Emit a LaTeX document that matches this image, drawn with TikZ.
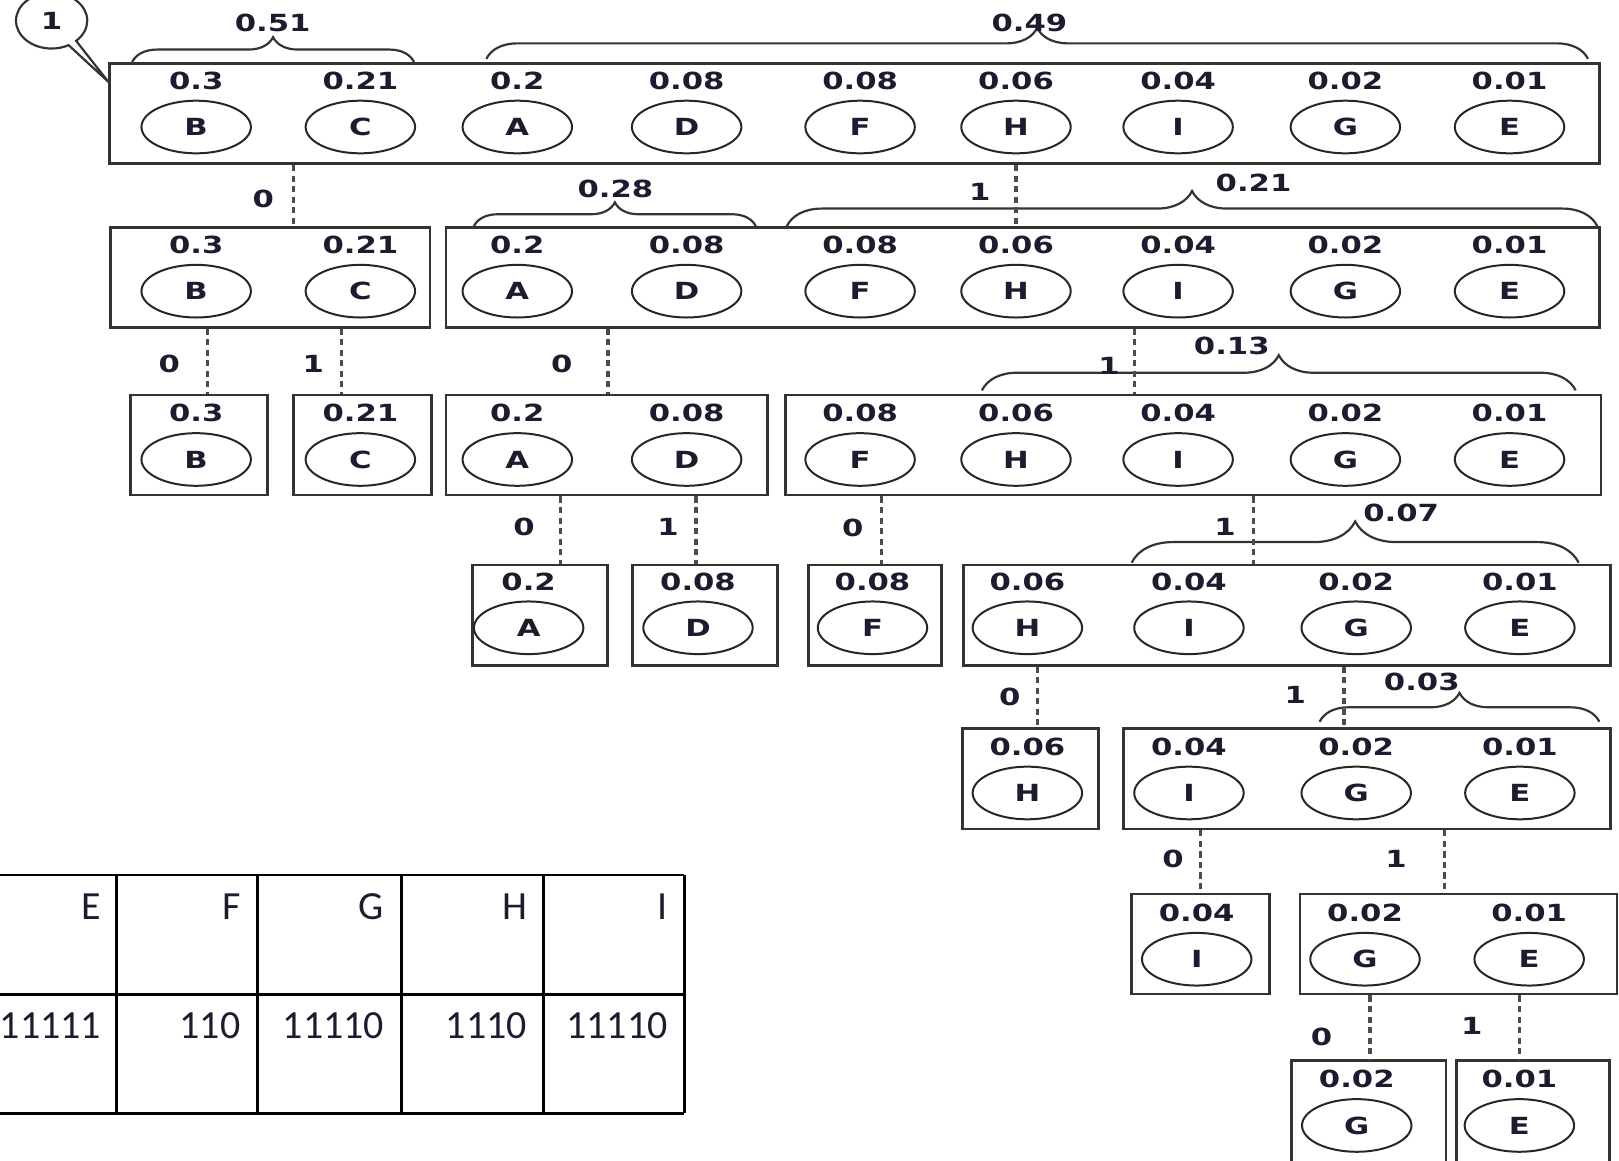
\documentclass[tikz,border=0pt]{standalone}
\usepackage{fontspec}
\usepackage{tikz}
\usetikzlibrary{shapes.geometric, shapes.callouts, decorations.pathreplacing}
\newfontfamily\treefont[FakeStretch=1.3]{DejaVu Sans}
\newfontfamily\cellfont{Carlito}
\definecolor{ink}{RGB}{28,28,48}

\begin{document}
\begin{tikzpicture}[x=0.1mm, y=-0.1mm, ink,
  box/.style={draw=black!80, line width=0.75pt, minimum height=9.7mm, inner sep=0pt},
  val/.style={inner sep=0pt, font=\treefont\bfseries\fontsize{6.5}{8}\selectfont},
  sym/.style={val, ellipse, draw=black!85, line width=0.55pt, minimum width=10.6mm, minimum height=5.1mm},
  link/.style={draw=black!70, line width=0.95pt, dash pattern=on 1.7pt off 1.2pt},
  brc/.style={decorate, decoration={brace, amplitude=#1}, draw=black!80, line width=0.6pt},
  tabline/.style={draw=black, line width=0.75pt},
  cell/.style={anchor=east, inner sep=0pt, font=\cellfont\fontsize{11}{14}\selectfont}]
  \useasboundingbox (0,0) rectangle (1568,1124);

  % boxes, row by row
  \node[box, minimum width=144.3mm] (r1) at (827.7,110) {};
  \node[box, minimum width=30.95mm] (r2a) at (261.75,268.5) {};
  \node[box, minimum width=111.7mm] (r2b) at (990.5,268.5) {};
  \node[box, minimum width=13.27mm] (r3a) at (192.65,431) {};
  \node[box, minimum width=13.37mm] (r3b) at (350.85,431) {};
  \node[box, minimum width=31.13mm] (r3c) at (587.65,431) {};
  \node[box, minimum width=78.96mm] (r3d) at (1155.8,431) {};
  \node[box, minimum width=13.06mm] (r4a) at (523.2,595.7) {};
  \node[box, minimum width=14.05mm] (r4b) at (682.95,595.7) {};
  \node[box, minimum width=12.89mm] (r4c) at (847.15,595.7) {};
  \node[box, minimum width=62.7mm] (r4d) at (1246.5,595.7) {};
  \node[box, minimum width=13.15mm] (r5a) at (998.25,754.3) {};
  \node[box, minimum width=47.2mm] (r5b) at (1324,754.3) {};
  \node[box, minimum width=13.38mm] (r6a) at (1162.9,914.3) {};
  \node[box, minimum width=30.7mm] (r6b) at (1412.5,914.3) {};
  \node[box, minimum width=14.95mm, minimum height=10mm] (r7a) at (1325.75,1077) {};
  \node[box, minimum width=14.82mm, minimum height=10mm] (r7b) at (1484.9,1077) {};

  % probabilities and symbols
  \foreach \r/\t in {1/61, 2/220, 3/383}
    \foreach \x/\s/\p in {190/B/0.3, 349/C/0.21, 501/A/0.2, 665/D/0.08, 833/F/0.08,
                          984/H/0.06, 1141/I/0.04, 1303/G/0.02, 1462/E/0.01} {
      \node[val] (p\r\s) at ({\x},{\t+17}) {\p};
      \node[sym] (n\r\s) at ({\x},{\t+62}) {\s};
    }
  \foreach \x/\s/\p in {512/A/0.2, 676/D/0.08, 845/F/0.08, 995/H/0.06,
                        1151.5/I/0.04, 1313.5/G/0.02, 1472/E/0.01} {
    \node[val] (p4\s) at (\x,564) {\p};
    \node[sym] (n4\s) at (\x,608) {\s};
  }
  \foreach \x/\s/\p in {995/H/0.06, 1151.5/I/0.04, 1313.5/G/0.02, 1472/E/0.01} {
    \node[val] (p5\s) at (\x,723) {\p};
    \node[sym] (n5\s) at (\x,768) {\s};
  }
  \foreach \x/\s/\p in {1159/I/0.04, 1322/G/0.02, 1481/E/0.01} {
    \node[val] (p6\s) at (\x,884) {\p};
    \node[sym] (n6\s) at (\x,929) {\s};
  }
  \foreach \x/\s/\p in {1314/G/0.02, 1471.5/E/0.01} {
    \node[val] (p7\s) at (\x,1045) {\p};
    \node[sym] (n7\s) at (\x,1090) {\s};
  }

  % group sums
  \draw[brc=2.4mm] (128,60) -- (401,60);
  \draw[brc=3mm] (471,57) -- (1538,57);
  \draw[brc=2.3mm] (459,219) -- (732,219);
  \draw[brc=3.4mm] (762,219) -- (1547,219);
  \draw[brc=3.4mm] (951,378) -- (1526,378);
  \draw[brc=4mm] (1096,545) -- (1529,545);
  \draw[brc=2.8mm] (1278,699) -- (1549,699);
  \node[val] (s1) at (264,22.6) {0.51};
  \node[val] (s2) at (997,22.6) {0.49};
  \node[val] (s3) at (596,183) {0.28};
  \node[val] (s4) at (1214,177.5) {0.21};
  \node[val] (s5) at (1193,335) {0.13};
  \node[val] (s6) at (1357,497) {0.07};
  \node[val] (s7) at (1377,660) {0.03};

  % splits
  \draw[link] (r1.south -| 284,0) -- (r2a.north -| 284,0);
  \draw[link] (r1.south -| 984,0) -- (r2b.north -| 984,0);
  \draw[link] (r2a.south -| 201,0) -- (r3a.north -| 201,0);
  \draw[link] (r2a.south -| 331,0) -- (r3b.north -| 331,0);
  \draw[link] (r2b.south -| 589,0) -- (r3c.north -| 589,0);
  \draw[link] (r2b.south -| 1098.5,0) -- (r3d.north -| 1098.5,0);
  \draw[link] (r3c.south -| 543,0) -- (r4a.north -| 543,0);
  \draw[link] (r3c.south -| 674,0) -- (r4b.north -| 674,0);
  \draw[link] (r3d.south -| 853.6,0) -- (r4c.north -| 853.6,0);
  \draw[link] (r3d.south -| 1214,0) -- (r4d.north -| 1214,0);
  \draw[link] (r4d.south -| 1005,0) -- (r5a.north -| 1005,0);
  \draw[link] (r4d.south -| 1301.5,0) -- (r5b.north -| 1301.5,0);
  \draw[link] (r5b.south -| 1162.5,0) -- (r6a.north -| 1162.5,0);
  \draw[link] (r5b.south -| 1399,0) -- (r6b.north -| 1399,0);
  \draw[link] (r6b.south -| 1327,0) -- (r7a.north -| 1327,0);
  \draw[link] (r6b.south -| 1471.5,0) -- (r7b.north -| 1471.5,0);

  % bits
  \node[val] (b1) at (255,193) {0};
  \node[val] (b2) at (949,186) {1};
  \node[val] (b3) at (164,352) {0};
  \node[val] (b4) at (303.5,352) {1};
  \node[val] (b5) at (544,352) {0};
  \node[val] (b6) at (1074,354) {1};
  \node[val] (b7) at (507.5,510) {0};
  \node[val] (b8) at (647,510) {1};
  \node[val] (b9) at (826,511) {0};
  \node[val] (b10) at (1186.5,510) {1};
  \node[val] (b11) at (978,675) {0};
  \node[val] (b12) at (1254.4,673) {1};
  \node[val] (b13) at (1136,832) {0};
  \node[val] (b14) at (1352,832) {1};
  \node[val] (b15) at (1280,1004) {0};
  \node[val] (b16) at (1425.4,994) {1};

  % callout
  \node[val, ellipse callout, draw=black!80, line width=0.6pt, minimum width=6.9mm,
        minimum height=5.4mm, callout absolute pointer={([yshift=-1.9mm]r1.north west)}]
        (note) at (50,20) {1};

  % code table
  \foreach \y in {847.5, 963, 1078.3}
    \draw[tabline] (0,\y) -- (662.8,\y);
  \foreach \x in {113, 249.5, 389, 526.7, 662.8}
    \draw[tabline] (\x,847.5) -- (\x,1078.3);
  \foreach \x/\a/\b in {98.5/E/11111, 233.5/F/110, 372.7/G/11110, 511/H/1110, 647.3/I/11110} {
    \node[cell] (h\a) at (\x,878) {\a};
    \node[cell] (c\a) at (\x,993) {\b};
  }
\end{tikzpicture}
\end{document}
